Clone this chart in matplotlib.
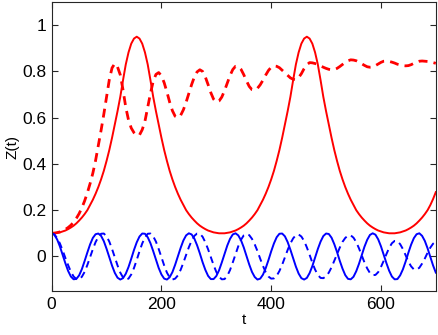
import numpy as np
import matplotlib
matplotlib.use('Agg')
import matplotlib.pyplot as plt

# time axis, one reading every 5 units of t
t = np.arange(0, 701, 5)

# red solid line
red_solid = [
    0.100, 0.100, 0.102, 0.104, 0.108, 0.112, 0.118, 0.125, 0.133, 0.143,
    0.155, 0.168, 0.183, 0.200, 0.222, 0.245, 0.271, 0.300, 0.333, 0.370,
    0.413, 0.460, 0.513, 0.570, 0.628, 0.690, 0.762, 0.830, 0.882, 0.920,
    0.942, 0.950, 0.942, 0.920, 0.882, 0.830, 0.762, 0.690, 0.628, 0.570,
    0.513, 0.460, 0.413, 0.370, 0.333, 0.300, 0.271, 0.245, 0.222, 0.200,
    0.183, 0.168, 0.155, 0.143, 0.133, 0.125, 0.118, 0.112, 0.108, 0.104,
    0.102, 0.100, 0.100, 0.100, 0.102, 0.104, 0.108, 0.112, 0.118, 0.125,
    0.133, 0.143, 0.155, 0.168, 0.183, 0.200, 0.222, 0.245, 0.271, 0.300,
    0.333, 0.370, 0.413, 0.460, 0.513, 0.570, 0.628, 0.690, 0.762, 0.830,
    0.882, 0.920, 0.942, 0.950, 0.942, 0.920, 0.882, 0.830, 0.762, 0.690,
    0.628, 0.570, 0.513, 0.460, 0.413, 0.370, 0.333, 0.300, 0.271, 0.245,
    0.222, 0.200, 0.183, 0.168, 0.155, 0.143, 0.133, 0.125, 0.118, 0.112,
    0.108, 0.104, 0.102, 0.100, 0.100, 0.100, 0.102, 0.104, 0.108, 0.112,
    0.118, 0.125, 0.133, 0.143, 0.155, 0.168, 0.183, 0.200, 0.222, 0.248,
    0.278,
]

# red dashed line
red_dashed = [
    0.100, 0.101, 0.103, 0.106, 0.111, 0.117, 0.125, 0.135, 0.148, 0.165,
    0.185, 0.210, 0.240, 0.275, 0.315, 0.360, 0.415, 0.480, 0.545, 0.615,
    0.690, 0.764, 0.815, 0.834, 0.819, 0.785, 0.720, 0.645, 0.590, 0.555,
    0.535, 0.523, 0.525, 0.548, 0.585, 0.645, 0.705, 0.757, 0.787, 0.795,
    0.781, 0.751, 0.711, 0.667, 0.630, 0.606, 0.600, 0.610, 0.634, 0.667,
    0.705, 0.743, 0.776, 0.798, 0.807, 0.800, 0.776, 0.743, 0.708, 0.680,
    0.667, 0.672, 0.689, 0.717, 0.750, 0.782, 0.808, 0.822, 0.822, 0.809,
    0.786, 0.759, 0.735, 0.721, 0.719, 0.727, 0.742, 0.762, 0.784, 0.804,
    0.818, 0.824, 0.822, 0.816, 0.805, 0.794, 0.783, 0.772, 0.766, 0.764,
    0.773, 0.790, 0.812, 0.829, 0.838, 0.837, 0.834, 0.830, 0.824, 0.818,
    0.813, 0.809, 0.807, 0.808, 0.813, 0.821, 0.830, 0.839, 0.846, 0.850,
    0.849, 0.846, 0.840, 0.833, 0.826, 0.820, 0.818, 0.819, 0.825, 0.832,
    0.839, 0.844, 0.845, 0.843, 0.840, 0.836, 0.831, 0.828, 0.825, 0.824,
    0.825, 0.829, 0.835, 0.840, 0.844, 0.845, 0.844, 0.843, 0.840, 0.838,
    0.835,
]

# blue solid line
blue_solid = [
    0.100, 0.093, 0.073, 0.043, 0.007, -0.030, -0.063, -0.087, -0.099, -0.097,
    -0.082, -0.055, -0.020, 0.017, 0.052, 0.080, 0.096, 0.099, 0.089, 0.066,
    0.033, -0.004, -0.040, -0.071, -0.092, -0.100, -0.094, -0.075, -0.046, -0.010,
    0.028, 0.061, 0.086, 0.099, 0.098, 0.083, 0.057, 0.023, -0.014, -0.050,
    -0.078, -0.096, -0.100, -0.090, -0.068, -0.036, 0.001, 0.037, 0.069, 0.091,
    0.100, 0.095, 0.077, 0.048, 0.013, -0.025, -0.058, -0.084, -0.098, -0.098,
    -0.085, -0.060, -0.026, 0.011, 0.047, 0.076, 0.095, 0.100, 0.091, 0.070,
    0.039, 0.002, -0.035, -0.067, -0.089, -0.100, -0.096, -0.079, -0.051, -0.016,
    0.022, 0.056, 0.083, 0.098, 0.099, 0.087, 0.062, 0.029, -0.008, -0.044,
    -0.074, -0.094, -0.100, -0.093, -0.072, -0.042, -0.005, 0.032, 0.064, 0.088,
    0.099, 0.097, 0.081, 0.053, 0.019, -0.019, -0.053, -0.081, -0.097, -0.099,
    -0.088, -0.064, -0.032, 0.005, 0.042, 0.072, 0.093, 0.100, 0.094, 0.074,
    0.044, 0.008, -0.029, -0.062, -0.087, -0.099, -0.098, -0.082, -0.056, -0.022,
    0.016, 0.051, 0.079, 0.096, 0.100, 0.089, 0.067, 0.035, -0.002, -0.039,
    -0.070,
]

# blue dashed line
blue_dashed = [
    0.100, 0.095, 0.079, 0.056, 0.026, -0.007, -0.038, -0.066, -0.087, -0.098,
    -0.099, -0.088, -0.067, -0.037, -0.003, 0.031, 0.062, 0.084, 0.098, 0.099,
    0.087, 0.064, 0.032, -0.004, -0.039, -0.070, -0.091, -0.100, -0.096, -0.078,
    -0.050, -0.015, 0.022, 0.056, 0.082, 0.098, 0.099, 0.087, 0.064, 0.032,
    -0.004, -0.039, -0.070, -0.091, -0.100, -0.096, -0.082, -0.058, -0.027, 0.007,
    0.040, 0.068, 0.089, 0.099, 0.098, 0.085, 0.061, 0.031, -0.003, -0.037,
    -0.067, -0.088, -0.099, -0.098, -0.084, -0.059, -0.026, 0.009, 0.044, 0.072,
    0.091, 0.097, 0.092, 0.076, 0.052, 0.023, -0.010, -0.041, -0.068, -0.087,
    -0.096, -0.095, -0.084, -0.063, -0.036, -0.004, 0.028, 0.056, 0.078, 0.092,
    0.095, 0.086, 0.067, 0.039, 0.007, -0.027, -0.057, -0.080, -0.093, -0.094,
    -0.086, -0.070, -0.047, -0.019, 0.010, 0.038, 0.063, 0.080, 0.090, 0.091,
    0.081, 0.062, 0.035, 0.005, -0.026, -0.052, -0.072, -0.081, -0.080, -0.068,
    -0.046, -0.019, 0.010, 0.037, 0.057, 0.067, 0.066, 0.053, 0.032, 0.005,
    -0.022, -0.043, -0.056, -0.057, -0.049, -0.031, -0.009, 0.016, 0.038, 0.055,
    0.064,
]

y_ticks = [0, 0.2, 0.4, 0.6, 0.8, 1]
y_tick_labels = ['0', '0.2', '0.4', '0.6', '0.8', '1']
x_ticks = [0, 200, 400, 600]

plt.rcParams['font.family'] = ['Liberation Sans', 'DejaVu Sans']

fig = plt.figure(figsize=(4.38, 3.35), dpi=100)
ax = fig.add_axes([0.118, 0.131, 0.877, 0.863])

ax.plot(t, red_solid, color='red', lw=1.4)
ax.plot(t, red_dashed, color='red', lw=2.0, ls=(0, (3.2, 2.2)))
ax.plot(t, blue_solid, color='blue', lw=1.4)
ax.plot(t, blue_dashed, color='blue', lw=1.4, ls=(0, (3.5, 2.5)))

ax.set_xlim(0, 700)
ax.set_ylim(-0.15, 1.1)
ax.set_xticks(x_ticks)
ax.set_yticks(y_ticks)
ax.set_yticklabels(y_tick_labels)
ax.tick_params(direction='in', top=True, right=True, length=4.5,
               labelsize=12.5, color='#262626', pad=4)
for s in ax.spines.values():
    s.set_color('#262626')
    s.set_linewidth(0.8)

ax.set_xlabel('t', fontsize=11, labelpad=1)
ax.set_ylabel('Z(t)', fontsize=11, labelpad=2)

fig.savefig('out.png', dpi=100)
